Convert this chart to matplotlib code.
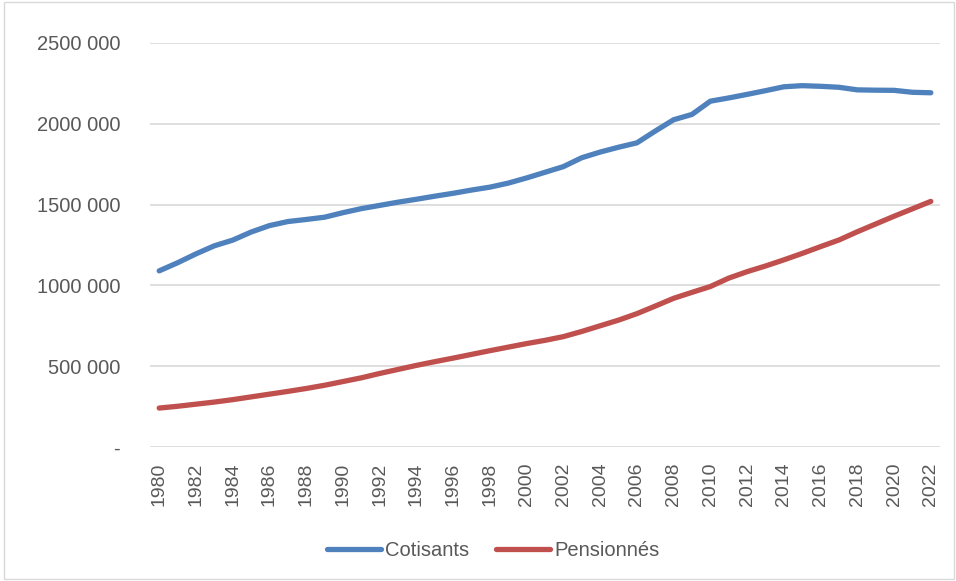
import matplotlib.pyplot as plt
from matplotlib.patches import Rectangle
from matplotlib.ticker import FuncFormatter, MultipleLocator

years = list(range(1980, 2023))
cotisants = [1090000, 1140000, 1195000, 1245000, 1280000, 1330000, 1370000, 1395000,
             1408000, 1422000, 1450000, 1475000, 1495000, 1515000, 1533000, 1552000,
             1570000, 1590000, 1608000, 1633000, 1665000, 1700000, 1735000, 1790000,
             1825000, 1855000, 1882000, 1955000, 2025000, 2058000, 2140000, 2160000,
             2182000, 2205000, 2229000, 2236000, 2232000, 2226000, 2210000, 2208000,
             2207000, 2195000, 2192000]
pensionnes = [241000, 252000, 265000, 278000, 293000, 310000, 327000, 344000,
              362000, 382000, 405000, 428000, 455000, 480000, 505000, 528000,
              550000, 573000, 596000, 618000, 640000, 660000, 683000, 715000,
              750000, 785000, 825000, 872000, 920000, 957000, 993000, 1045000,
              1085000, 1120000, 1158000, 1198000, 1240000, 1281000, 1332000, 1380000,
              1428000, 1474000, 1520000]

plt.rcParams['font.family'] = ['Liberation Sans', 'DejaVu Sans']
txt = '#595959'

fig = plt.figure(figsize=(9.56, 5.81), dpi=100)
ax = fig.add_axes([150/956, 1 - 447/581, 790/956, 404/581])

ax.plot(years, cotisants, color='#4F81BD', lw=3.8, label='Cotisants',
        solid_capstyle='round', solid_joinstyle='round')
ax.plot(years, pensionnes, color='#C0504D', lw=3.8, label='Pensionnés',
        solid_capstyle='round', solid_joinstyle='round')

ax.set_ylim(0, 2500000)
ax.set_xlim(1979.5, 2022.5)
ax.yaxis.set_major_locator(MultipleLocator(500000))


def fmt(v, pos):
    if v == 0:
        return '-'
    v = int(v)
    return f"{v // 1000} {v % 1000:03d}"


ax.yaxis.set_major_formatter(FuncFormatter(fmt))
ax.set_xticks(years[::2])
ax.set_xticklabels([str(y) for y in years[::2]], rotation=90)
ax.tick_params(axis='y', length=0, labelsize=14.5, colors=txt, pad=21.5)
ax.tick_params(axis='x', length=0, labelsize=14, colors=txt, pad=11)

ax.grid(axis='y', color='#D9D9D9', lw=1.2)
ax.set_axisbelow(True)
for s in ax.spines.values():
    s.set_visible(False)

fig.legend(loc='center', bbox_to_anchor=(493/956, 1 - 551/581), ncol=2,
           frameon=False, fontsize=14.5, handlelength=2.7, columnspacing=1.3,
           handletextpad=0.2, labelcolor=txt)

fig.patches.append(Rectangle((4/956, 2/581), 950/956, 577/581, transform=fig.transFigure,
                             fill=False, edgecolor='#D9D9D9', lw=1))

fig.savefig('out.png', dpi=100)
